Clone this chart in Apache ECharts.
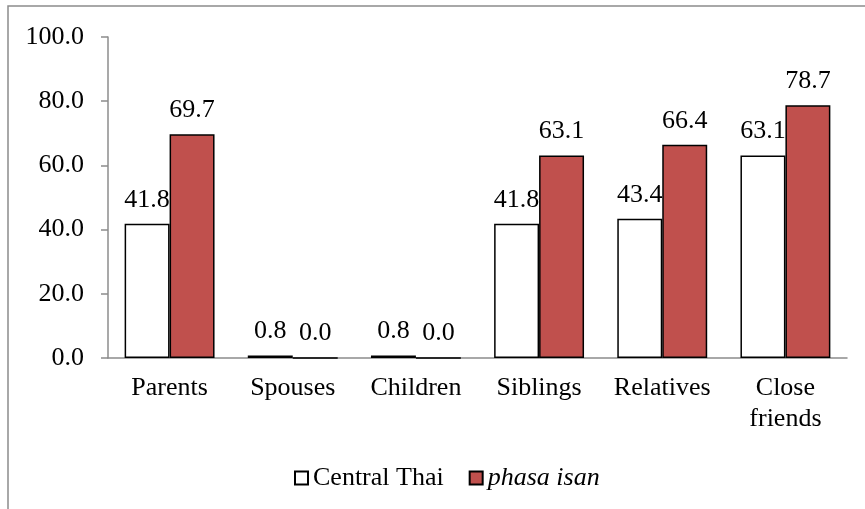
<!DOCTYPE html>
<html>
<head>
<meta charset="utf-8">
<script src="https://cdn.jsdelivr.net/npm/echarts@6/dist/echarts.min.js"></script>
<style>html,body{margin:0;padding:0;background:#fff;}#c{width:865px;height:509px;}</style>
</head>
<body>
<div id="c"></div>
<script>
const categories = ['Parents', 'Spouses', 'Children', 'Siblings', 'Relatives', 'Close\nfriends'];
const centralThai = [41.8, 0.8, 0.8, 41.8, 43.4, 63.1];
const phasaIsan = [69.7, 0.0, 0.0, 63.1, 66.4, 78.7];
const seriesNames = ['Central Thai', 'phasa isan'];

const FONT = '"Liberation Serif", "Times New Roman", serif';
const FS = 26;
const chart = echarts.init(document.getElementById('c'));
const labelStyle = {
  show: true, position: 'top', distance: 11,
  fontFamily: FONT, fontSize: FS, color: '#000',
  formatter: p => p.value.toFixed(1)
};
chart.setOption({
  animation: false,
  textStyle: { fontFamily: FONT },
  graphic: [{
    type: 'rect', z: -1,
    shape: { x: 8, y: 6, width: 1000, height: 700 },
    style: { fill: 'none', stroke: '#8c8c8c', lineWidth: 1.5 }
  }],
  grid: { left: 108, right: 18, top: 37, bottom: 151 },
  legend: {
    left: 289, top: 460,
    itemWidth: 13, itemHeight: 13, itemGap: 25,
    data: seriesNames.map(n => ({ name: n, icon: 'rect' })),
    textStyle: {
      fontFamily: FONT, fontSize: FS, color: '#000',
      rich: { i: { fontFamily: FONT, fontSize: FS, fontStyle: 'italic', color: '#000' } }
    },
    formatter: n => n === 'phasa isan' ? '{i|' + n + '}' : n
  },
  xAxis: {
    type: 'category', data: categories,
    axisLine: { lineStyle: { color: '#8c8c8c', width: 1.5 } },
    axisTick: { show: false },
    axisLabel: { fontFamily: FONT, fontSize: FS, color: '#000', margin: 15, lineHeight: 31, interval: 0 }
  },
  yAxis: {
    type: 'value', min: 0, max: 100, interval: 20,
    axisLine: { show: true, lineStyle: { color: '#8c8c8c', width: 1.5 } },
    axisTick: { show: true, length: 7, lineStyle: { color: '#8c8c8c', width: 1.5 } },
    splitLine: { show: false },
    axisLabel: { fontFamily: FONT, fontSize: FS, color: '#000', margin: 24, formatter: v => v.toFixed(1) }
  },
  series: [
    {
      name: seriesNames[0], type: 'bar', data: centralThai,
      barGap: '0%', barCategoryGap: '27%',
      itemStyle: { color: '#ffffff', borderColor: '#000', borderWidth: 1.5 },
      label: labelStyle
    },
    {
      name: seriesNames[1], type: 'bar', data: phasaIsan,
      barGap: '0%', barCategoryGap: '27%',
      itemStyle: { color: '#c0504d', borderColor: '#000', borderWidth: 1.5 },
      label: labelStyle
    }
  ]
});
</script>
</body>
</html>
